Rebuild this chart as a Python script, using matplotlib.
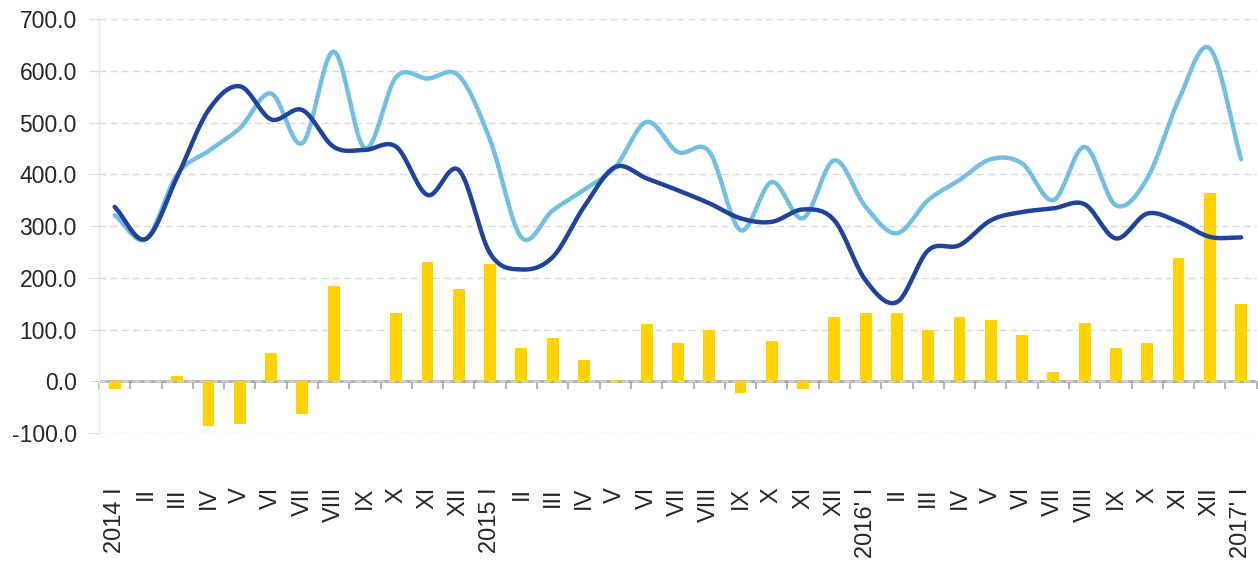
import numpy as np
import matplotlib
matplotlib.use("Agg")
import matplotlib.pyplot as plt
from matplotlib.ticker import FormatStrFormatter

plt.rcParams['font.family'] = ['Liberation Sans', 'DejaVu Sans']

labels = ["2014 I", "II", "III", "IV", "V", "VI", "VII", "VIII", "IX", "X", "XI", "XII",
          "2015 I", "II", "III", "IV", "V", "VI", "VII", "VIII", "IX", "X", "XI", "XII",
          "2016' I", "II", "III", "IV", "V", "VI", "VII", "VIII", "IX", "X", "XI", "XII",
          "2017' I"]

bars = [-15, 0, 10, -86, -83, 55, -63, 185, 0, 131, 230, 178,
        227, 64, 83, 42, 3, 110, 74, 100, -22, 77, -15, 124,
        131, 131, 100, 124, 118, 90, 17, 112, 64, 73, 239, 364,
        150]

light = [321, 275, 400, 445, 489, 556, 460, 637, 450, 588, 585, 590,
         466, 278, 330, 370, 414, 501, 443, 444, 292, 385, 315, 427,
         337, 286, 350, 389, 429, 421, 350, 453, 340, 392, 543, 643,
         429]

dark = [337, 275, 395, 524, 570, 506, 524, 453, 447, 453, 360, 408,
        247, 216, 240, 337, 414, 392, 369, 344, 315, 308, 332, 311,
        195, 153, 253, 263, 311, 327, 334, 342, 276, 324, 308, 279,
        278]


def smooth(y, n=20):
    # catmull-rom curve through the points
    y = np.asarray(y, dtype=float)
    x = np.arange(len(y), dtype=float)
    yp = np.concatenate([[2 * y[0] - y[1]], y, [2 * y[-1] - y[-2]]])
    xs, ys = [], []
    t = np.linspace(0, 1, n, endpoint=False)
    for i in range(len(y) - 1):
        p0, p1, p2, p3 = yp[i], yp[i + 1], yp[i + 2], yp[i + 3]
        yy = 0.5 * ((2 * p1) + (-p0 + p2) * t + (2 * p0 - 5 * p1 + 4 * p2 - p3) * t ** 2
                    + (-p0 + 3 * p1 - 3 * p2 + p3) * t ** 3)
        xs.append(x[i] + t)
        ys.append(yy)
    xs.append([x[-1]])
    ys.append([y[-1]])
    return np.concatenate(xs), np.concatenate(ys)


fig = plt.figure(figsize=(12.58, 5.67), dpi=100)
ax = fig.add_axes([0.0787, 0.2363, 0.9203, 0.7302])

x = np.arange(len(labels))
ax.bar(x, bars, width=0.38, color="#FFD200", zorder=2)
lx, ly = smooth(light)
ax.plot(lx, ly, color="#72BFE2", lw=3.2, zorder=3, solid_capstyle="round")
dx, dy = smooth(dark)
ax.plot(dx, dy, color="#1F439B", lw=3.2, zorder=4, solid_capstyle="round")

ax.set_xlim(-0.5, 36.5)
ax.set_ylim(-100, 700)
ax.set_yticks(np.arange(-100, 701, 100))
ax.yaxis.set_major_formatter(FormatStrFormatter("%.1f"))
ax.grid(axis="y", color="#D9D9D9", linestyle=(0, (5, 3)), lw=1, zorder=0)
ax.axhline(0, color="#A6A6A6", lw=1.8, zorder=1)

for s in ["top", "right", "bottom"]:
    ax.spines[s].set_visible(False)
ax.spines["left"].set_color("#E6E6E6")
ax.spines["left"].set_linewidth(1)

ax.tick_params(axis="y", length=7, color="#D9D9D9", pad=9, labelsize=16.5, labelcolor="#262626")
ax.set_xticks(x)
ax.set_xticklabels(labels, rotation=90, fontsize=17, color="#262626", va="top", ha="center")
ax.tick_params(axis="x", length=0, pad=39)

sec = ax.secondary_xaxis(0.125)
sec.set_xticks(np.arange(-0.5, 36.6, 1))
sec.set_xticklabels([])
sec.tick_params(length=6, width=1.2, color="#A6A6A6", direction="out")
sec.spines["bottom"].set_visible(False)

fig.savefig("out.png", dpi=100)
